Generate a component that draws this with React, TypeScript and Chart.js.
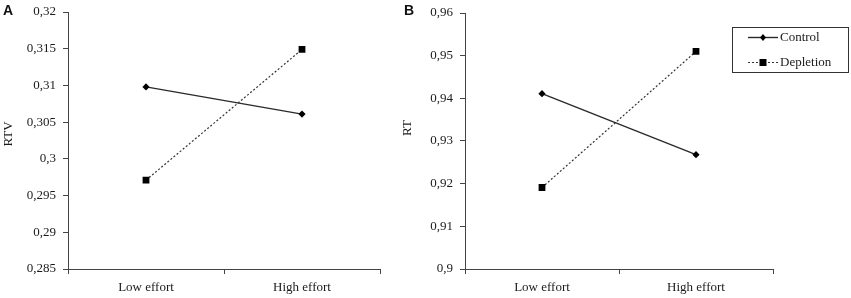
import React, { useEffect, useRef } from "react";
import { Chart, registerables } from "chart.js";

Chart.register(...registerables);

const categories = ["Low effort", "High effort"];
const seriesNames = ["Control", "Depletion"];
const rtvControl = [0.3098, 0.3061];
const rtvDepletion = [0.2971, 0.3149];
const rtControl = [0.9411, 0.9268];
const rtDepletion = [0.9191, 0.951];
const rtvRange = [0.285, 0.32, 0.005];
const rtRange = [0.9, 0.96, 0.01];

const FONT = "'Liberation Serif', 'Times New Roman', serif";
const INK = "#1a1a1a";

function fmt(v: number) {
  return String(Number(v.toFixed(4))).replace(".", ",");
}

const legendPlugin = (box: { x: number; y: number; w: number; h: number }) => ({
  id: "boxLegend",
  afterDraw(chart: any) {
    const ctx = chart.ctx;
    ctx.save();
    ctx.strokeStyle = "#333";
    ctx.lineWidth = 1;
    ctx.strokeRect(box.x + 0.5, box.y + 0.5, box.w, box.h);
    const rows = [box.y + 10, box.y + 35];
    chart.data.datasets.forEach((ds: any, i: number) => {
      const y = rows[i];
      const x0 = box.x + 16;
      const x1 = box.x + 46;
      ctx.strokeStyle = ds.borderColor;
      ctx.lineWidth = ds.borderWidth;
      ctx.setLineDash(ds.borderDash || []);
      ctx.beginPath();
      ctx.moveTo(x0, y + 0.5);
      ctx.lineTo(x1, y + 0.5);
      ctx.stroke();
      ctx.setLineDash([]);
      ctx.fillStyle = "#000";
      const cx = (x0 + x1) / 2;
      if (ds.pointStyle === "rect") {
        ctx.fillRect(cx - 3.5, y - 3, 7, 7);
      } else {
        ctx.beginPath();
        ctx.moveTo(cx, y - 3);
        ctx.lineTo(cx + 3, y + 0.5);
        ctx.lineTo(cx, y + 4);
        ctx.lineTo(cx - 3, y + 0.5);
        ctx.closePath();
        ctx.fill();
      }
      ctx.fillStyle = INK;
      ctx.font = `13px ${FONT}`;
      ctx.textBaseline = "middle";
      ctx.textAlign = "left";
      ctx.fillText(ds.label, x1 + 2, y + 1);
    });
    ctx.restore();
  },
});

const yTitlePlugin = (text: string, x: number, y: number) => ({
  id: "yTitle",
  afterDraw(chart: any) {
    const ctx = chart.ctx;
    ctx.save();
    ctx.translate(x, y);
    ctx.rotate(-Math.PI / 2);
    ctx.fillStyle = INK;
    ctx.font = `13px ${FONT}`;
    ctx.textAlign = "center";
    ctx.textBaseline = "middle";
    ctx.fillText(text, 0, 0);
    ctx.restore();
  },
});

function makeConfig(
  control: number[],
  depletion: number[],
  range: number[],
  yWidth: number,
  padRight: number,
  padTop: number,
  plugins: any[]
) {
  return {
    type: "line" as const,
    data: {
      labels: categories,
      datasets: [
        {
          label: seriesNames[0],
          data: control,
          borderColor: "#2a2a2a",
          borderWidth: 1.4,
          pointStyle: "rectRot",
          pointRadius: 3.6,
          pointBackgroundColor: "#000",
          pointBorderColor: "#000",
          pointBorderWidth: 0,
        },
        {
          label: seriesNames[1],
          data: depletion,
          borderColor: "#333",
          borderWidth: 1.2,
          borderDash: [2, 2],
          pointStyle: "rect",
          pointRadius: 4.8,
          pointBackgroundColor: "#000",
          pointBorderColor: "#000",
          pointBorderWidth: 0,
        },
      ],
    },
    options: {
      animation: false,
      responsive: false,
      maintainAspectRatio: false,
      layout: { padding: { top: padTop, right: padRight, left: 0, bottom: 0 } },
      plugins: { legend: { display: false }, tooltip: { enabled: false } },
      scales: {
        x: {
          offset: true,
          afterFit: (s: any) => {
            s.height = 29;
            s.paddingLeft = 0;
            s.paddingRight = 0;
          },
          grid: {
            offset: true,
            drawOnChartArea: false,
            drawTicks: true,
            tickLength: 5,
            color: "#444",
          },
          border: { color: "#444", width: 1 },
          ticks: { color: INK, font: { family: FONT, size: 13 }, padding: 6 },
        },
        y: {
          min: range[0],
          max: range[1],
          afterFit: (s: any) => {
            s.width = yWidth;
            s.paddingTop = 0;
            s.paddingBottom = 0;
          },
          grid: {
            drawOnChartArea: false,
            drawTicks: true,
            tickLength: 5,
            color: "#444",
          },
          border: { color: "#444", width: 1 },
          ticks: {
            stepSize: range[2],
            color: INK,
            font: { family: FONT, size: 13 },
            padding: 7,
            callback: (v: any) => fmt(Number(v)),
          },
        },
      },
    },
    plugins,
  };
}

function Panel(props: {
  left: number;
  width: number;
  cfg: any;
  letter: string;
  letterX: number;
}) {
  const ref = useRef<HTMLCanvasElement>(null);
  useEffect(() => {
    const c = new Chart(ref.current as HTMLCanvasElement, props.cfg);
    return () => c.destroy();
  }, []);
  return (
    <>
      <canvas
        ref={ref}
        width={props.width}
        height={298}
        style={{ position: "absolute", left: props.left, top: 0, width: props.width, height: 298 }}
      />
      <div
        style={{
          position: "absolute",
          left: props.letterX,
          top: 2,
          font: "bold 14px 'Liberation Sans', Arial, sans-serif",
          color: "#111",
        }}
      >
        {props.letter}
      </div>
    </>
  );
}

export default function App() {
  const cfgA = makeConfig(rtvControl, rtvDepletion, rtvRange, 68, 15, 12, [
    yTitlePlugin("RTV", 9, 134),
  ]);
  const cfgB = makeConfig(rtControl, rtDepletion, rtRange, 70, 78, 13, [
    yTitlePlugin("RT", 13, 128),
    legendPlugin({ x: 337, y: 27, w: 116, h: 45 }),
  ]);
  return (
    <div
      style={{
        position: "fixed",
        left: 0,
        top: 0,
        width: 851,
        height: 298,
        background: "#fff",
        overflow: "hidden",
      }}
    >
      <Panel left={0} width={395} cfg={cfgA} letter="A" letterX={3} />
      <Panel left={395} width={456} cfg={cfgB} letter="B" letterX={404} />
    </div>
  );
}
